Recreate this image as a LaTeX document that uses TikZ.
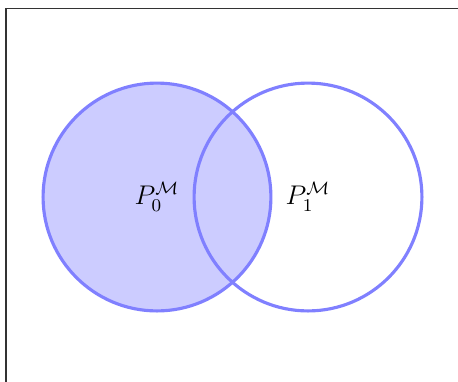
\documentclass[tikz,border=0pt]{standalone}
\usepackage{amsmath,amssymb}
\usepackage{tikz}

\begin{document}
\begin{tikzpicture}[set/.style={circle,draw=blue!50,line width=1.4pt,minimum size=3.56cm,inner sep=0pt,font=\fontsize{11.5}{14}\selectfont}]
    % page area
    \useasboundingbox (0,0) rectangle (7.156,-5.953);
    \clip (0,0) rectangle (7.156,-5.953);

    % frame
    \draw[black!80,semithick] (0.094,-0.133) rectangle (7.5,-6.3);

    % sets
    \node[set,fill=blue!20] (p0) at (2.453,-3.078) {$P_0^{\mathcal{M}}$};
    \node[set] (p1) at (4.8125,-3.078) {$P_1^{\mathcal{M}}$};
\end{tikzpicture}
\end{document}
